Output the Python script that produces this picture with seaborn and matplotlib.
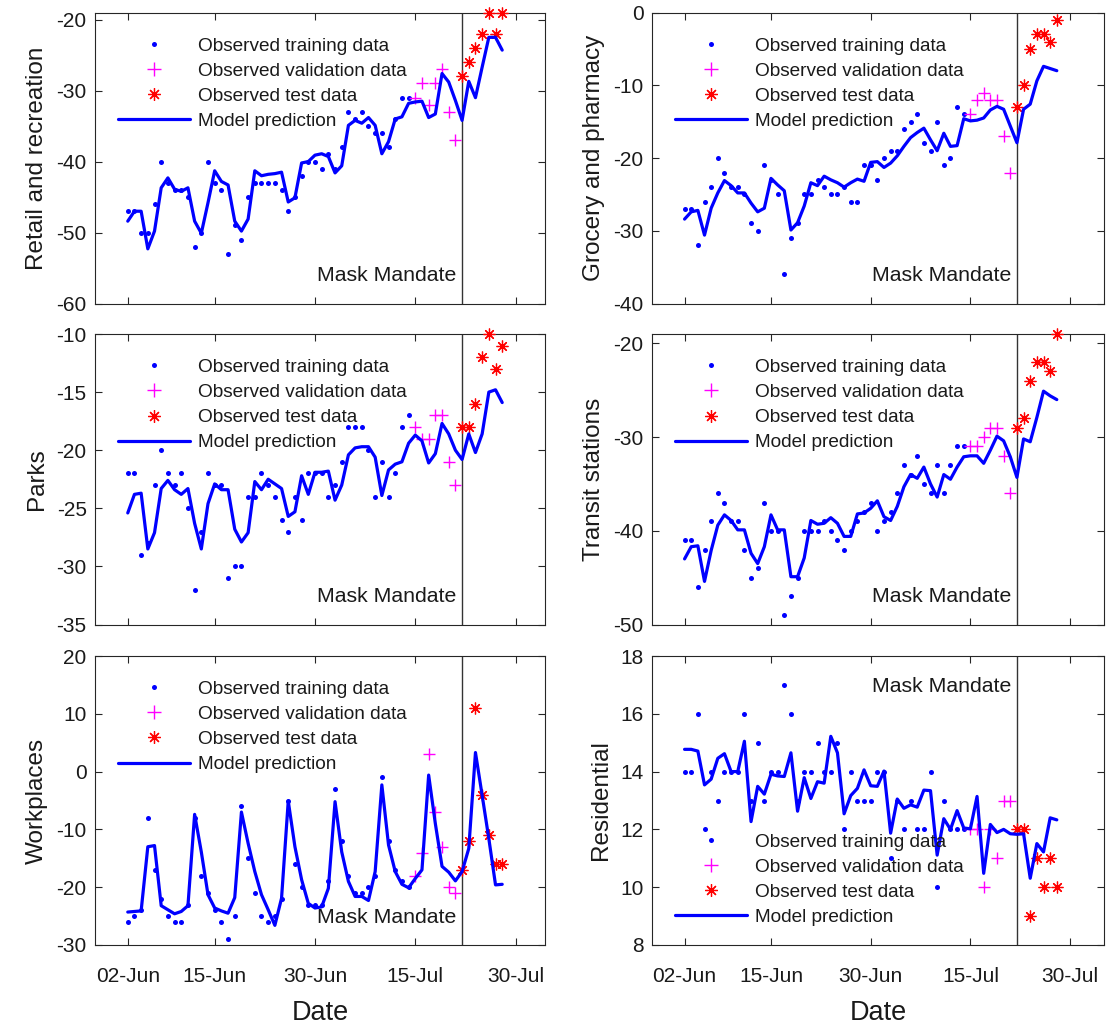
import matplotlib
matplotlib.use('Agg')
import matplotlib.pyplot as plt
import matplotlib.dates as mdates
import matplotlib.transforms as mtransforms
from matplotlib.lines import Line2D
import seaborn as sns
import pandas as pd

# Dates: 43 training days, 7 validation days, 7 test days
start_date = '2020-06-02'
n_train, n_val, n_test = 43, 7, 7
mask_mandate = '2020-07-22'
xtick_dates = ['2020-06-02', '2020-06-15', '2020-06-30', '2020-07-15', '2020-07-30']

# Retail and recreation
retail_train = [-47, -47, -50, -50, -46, -40, -43, -44, -44, -45, -52, -50, -40, -43, -44,
                 -53, -49, -51, -45, -43, -43, -43, -43, -44, -47, -45, -42, -40, -40, -41,
                 -39, -41, -38, -33, -34, -33, -35, -36, -36, -38, -34, -31, -31]
retail_val = [-31, -29, -32, -29, -27, -33, -37]
retail_test = [-28, -26, -24, -22, -19, -22, -19]
retail_pred = [-48.4, -47.0, -47.0, -52.3, -49.8, -43.7, -42.3, -43.9, -44.2, -43.7,
               -48.4, -50.1, -45.8, -41.3, -42.8, -43.3, -48.4, -49.8, -48.1, -41.3,
               -42.0, -41.8, -41.7, -41.5, -45.7, -45.1, -40.2, -40.0, -39.1, -38.9,
               -39.3, -41.6, -40.6, -34.9, -34.2, -34.6, -33.8, -34.9, -38.9, -37.2,
               -34.0, -33.7, -31.8, -31.6, -31.5, -33.8, -33.3, -27.6, -28.8, -31.4,
               -34.2, -28.7, -31.0, -26.7, -22.5, -22.5, -24.3]

# Grocery and pharmacy
grocery_train = [-27, -27, -32, -26, -24, -20, -22, -24, -24, -25, -29, -30, -21, -23, -25,
                 -36, -31, -29, -25, -25, -23, -24, -25, -25, -24, -26, -26, -21, -21, -23,
                 -20, -19, -19, -16, -15, -14, -18, -19, -15, -21, -20, -13, -14]
grocery_val = [-14, -12, -11, -12, -12, -17, -22]
grocery_test = [-13, -10, -5, -3, -3, -4, -1]
grocery_pred = [-28.4, -27.4, -27.2, -30.6, -26.9, -24.8, -23.1, -23.8, -24.8, -24.8,
                -26.2, -27.4, -26.9, -22.8, -23.7, -24.5, -29.9, -28.9, -26.6, -23.4,
                -23.8, -22.5, -23.0, -23.4, -24.0, -23.4, -22.9, -23.2, -20.6, -20.5,
                -21.3, -20.7, -19.7, -18.4, -17.2, -16.5, -15.9, -17.5, -19.0, -16.6,
                -18.4, -18.3, -14.6, -14.9, -14.8, -14.5, -13.4, -12.9, -13.3, -15.6,
                -17.9, -13.3, -12.6, -9.4, -7.4, -7.7, -8.0]

# Parks
parks_train = [-22, -22, -29, -28, -23, -20, -22, -23, -22, -25, -32, -27, -22, -23, -23,
               -31, -30, -30, -24, -24, -22, -23, -24, -26, -27, -24, -26, -22, -22, -22,
               -24, -23, -21, -18, -18, -18, -20, -24, -21, -24, -22, -18, -17]
parks_val = [-18, -19, -19, -17, -17, -21, -23]
parks_test = [-18, -18, -16, -12, -10, -13, -11]
parks_pred = [-25.4, -23.8, -23.7, -28.5, -27.1, -23.3, -22.6, -23.4, -23.8, -23.3,
              -26.3, -28.5, -24.6, -22.9, -23.4, -23.4, -26.8, -27.9, -27.1, -22.7,
              -23.4, -22.5, -22.9, -23.3, -25.7, -25.3, -22.2, -23.8, -21.9, -21.9,
              -21.8, -24.3, -23.0, -20.4, -19.8, -19.7, -19.7, -20.6, -23.9, -21.7,
              -21.2, -21.0, -19.4, -18.7, -19.2, -21.1, -20.3, -17.7, -18.6, -20.0,
              -20.8, -18.6, -20.2, -18.6, -15.0, -14.8, -15.9]

# Transit stations
transit_train = [-41, -41, -46, -42, -39, -36, -37, -39, -39, -42, -45, -44, -37, -40, -40,
                 -49, -47, -45, -40, -40, -40, -39, -40, -41, -42, -40, -39, -38, -37, -40,
                 -39, -38, -36, -33, -34, -32, -35, -36, -33, -36, -33, -31, -31]
transit_val = [-31, -31, -30, -29, -29, -32, -36]
transit_test = [-29, -28, -24, -22, -22, -23, -19]
transit_pred = [-43.0, -41.7, -41.6, -45.4, -42.1, -39.4, -38.3, -38.9, -39.9, -39.9,
                -42.4, -43.5, -41.7, -38.3, -39.9, -39.9, -44.9, -44.9, -42.9, -38.9,
                -39.3, -39.2, -38.6, -39.2, -40.6, -40.6, -38.2, -38.1, -37.6, -36.8,
                -38.5, -38.9, -37.4, -35.3, -34.0, -34.4, -33.2, -35.0, -36.4, -34.0,
                -34.5, -33.2, -32.1, -32.0, -32.0, -32.8, -31.4, -29.9, -30.4, -32.1,
                -34.3, -30.2, -30.5, -27.9, -25.1, -25.6, -26.0]

# Workplaces
work_train = [-26, -25, -24, -8, -17, -22, -25, -26, -26, -23, -8, -18, -21, -24, -26,
              -29, -25, -6, -15, -21, -25, -26, -25, -22, -5, -16, -20, -23, -23, -23,
              -19, -3, -12, -18, -21, -21, -20, -18, -1, -12, -17, -19, -20]
work_val = [-18, -14, 3, -7, -13, -20, -21]
work_test = [-17, -12, 11, -4, -11, -16, -16]
work_pred = [-24.3, -24.2, -24.1, -13.0, -12.8, -23.2, -23.9, -24.6, -24.2, -23.2,
             -7.4, -13.9, -21.3, -23.6, -24.1, -24.5, -21.8, -7.0, -12.4, -17.3,
             -21.3, -23.9, -26.6, -21.9, -5.1, -13.0, -18.7, -22.8, -23.6, -23.4,
             -20.2, -5.2, -13.9, -19.0, -21.6, -21.6, -22.3, -17.3, -2.3, -12.7,
             -17.3, -19.5, -20.1, -18.5, -17.0, -0.6, -9.0, -16.4, -17.4, -18.9,
             -17.3, -13.3, 3.3, -4.1, -11.6, -19.6, -19.5]

# Residential
resid_train = [14, 14, 16, 12, 14, 13, 14, 14, 14, 16, 13, 15, 13, 14, 14,
               17, 16, 13, 14, 14, 15, 14, 14, 15, 12, 14, 13, 13, 13, 14,
               14, 11, 13, 12, 13, 12, 12, 14, 10, 13, 12, 12, 12]
resid_val = [12, 12, 10, 12, 11, 13, 13]
resid_test = [12, 12, 9, 11, 10, 11, 10]
resid_pred = [14.77, 14.77, 14.71, 13.54, 13.74, 14.46, 14.62, 14.0, 14.0, 15.05,
              12.27, 13.49, 13.22, 13.91, 13.85, 13.83, 14.65, 12.63, 13.79, 13.07,
              13.65, 13.6, 15.22, 14.65, 12.54, 13.17, 13.42, 14.06, 13.51, 13.49,
              14.02, 11.87, 13.05, 12.73, 12.85, 12.77, 13.36, 13.34, 11.11, 12.37,
              12.0, 12.65, 12.05, 12.02, 13.14, 10.48, 12.17, 11.89, 12.0, 11.85,
              11.83, 11.85, 10.31, 11.51, 11.22, 12.4, 12.33]

# Panel setup: name, data, y limits, y ticks, legend/text at top or bottom
panels = [
    ('Retail and recreation', retail_train, retail_val, retail_test, retail_pred,
     (-60, -19), [-60, -50, -40, -30, -20], 'top'),
    ('Grocery and pharmacy', grocery_train, grocery_val, grocery_test, grocery_pred,
     (-40, 0), [-40, -30, -20, -10, 0], 'top'),
    ('Parks', parks_train, parks_val, parks_test, parks_pred,
     (-35, -10), [-35, -30, -25, -20, -15, -10], 'top'),
    ('Transit stations', transit_train, transit_val, transit_test, transit_pred,
     (-50, -19), [-50, -40, -30, -20], 'top'),
    ('Workplaces', work_train, work_val, work_test, work_pred,
     (-30, 20), [-30, -20, -10, 0, 10, 20], 'top'),
    ('Residential', resid_train, resid_val, resid_test, resid_pred,
     (8, 18), [8, 10, 12, 14, 16, 18], 'bottom'),
]

sns.set_theme(style='ticks')
plt.rcParams['font.family'] = ['Liberation Sans', 'DejaVu Sans']
plt.rcParams['axes.unicode_minus'] = False

dates = pd.date_range(start_date, periods=n_train + n_val + n_test, freq='D')
train_dates = dates[:n_train]
val_dates = dates[n_train:n_train + n_val]
test_dates = dates[n_train + n_val:]
mask_date = pd.Timestamp(mask_mandate)

W, H = 1112, 1024
fig = plt.figure(figsize=(W / 100, H / 100), dpi=100)
cols = [(95, 545), (652, 1104)]
rows = [(12.5, 303.5), (334, 624.5), (656, 945)]

blue = '#0000ff'
magenta = '#ff00ff'
red = '#ff0000'
edge = '#262626'
asterisk = (8, 2, 0)

for i, (name, tr, va, te, pr, ylim, yticks, pos) in enumerate(panels):
    r, c = divmod(i, 2)
    x0, x1 = cols[c]
    y0, y1 = rows[r]
    ax = fig.add_axes([x0 / W, 1 - y1 / H, (x1 - x0) / W, (y1 - y0) / H])

    ax.axvline(mask_date, color='#333333', lw=1.0, zorder=1)
    sns.scatterplot(x=train_dates, y=tr, ax=ax, color=blue, s=13, linewidth=0,
                    zorder=3, clip_on=False)
    ax.plot(val_dates, va, linestyle='', marker='+', color=magenta, ms=9, mew=1.0,
            zorder=3, clip_on=False)
    ax.plot(test_dates, te, linestyle='', marker=asterisk, color=red, ms=8.5, mew=0.9,
            zorder=3, clip_on=False)
    sns.lineplot(x=dates, y=pr, ax=ax, color=blue, lw=2.3, zorder=4)

    # x range as a day span around the observed data, like the reference
    x_lo = dates[0] - pd.Timedelta(days=4.9)
    x_hi = dates[0] + pd.Timedelta(days=62.4 + 0.1 * c * 7)
    ax.set_xlim(x_lo, x_hi)
    ax.set_ylim(*ylim)
    ax.set_yticks(yticks)
    ax.set_xticks(pd.to_datetime(xtick_dates))
    ax.xaxis.set_major_formatter(mdates.DateFormatter('%d-%b'))
    ax.tick_params(direction='in', top=True, right=True, length=5, width=0.8,
                   colors=edge, labelcolor='#1a1a1a', labelsize=15, pad=6)
    ax.tick_params(axis='x', pad=16)
    for sp in ax.spines.values():
        sp.set_color(edge)
        sp.set_linewidth(0.8)
    ax.set_ylabel(name, fontsize=17.5, color='#1a1a1a', labelpad=6)
    if r < 2:
        ax.tick_params(labelbottom=False)
        ax.set_xlabel('')
    else:
        ax.set_xlabel('Date', fontsize=19.5, color='#1a1a1a', labelpad=10)

    # Mask mandate label next to the vertical line
    trans = mtransforms.blended_transform_factory(ax.transData, ax.transAxes)
    ty = 0.095 if pos == 'top' else 0.893
    ax.text(mdates.date2num(mask_date - pd.Timedelta(days=0.9)), ty, 'Mask Mandate',
            transform=trans, ha='right', va='center', fontsize=15.3, color='#1a1a1a')

    handles = [
        Line2D([], [], linestyle='', marker='o', color=blue, ms=3.6, mew=0),
        Line2D([], [], linestyle='', marker='+', color=magenta, ms=10, mew=1.0),
        Line2D([], [], linestyle='', marker=asterisk, color=red, ms=9, mew=0.9),
        Line2D([], [], color=blue, lw=2.3),
    ]
    labels = ['Observed training data', 'Observed validation data',
              'Observed test data', 'Model prediction']
    if pos == 'top':
        loc, anchor = 'upper left', (0.051, 0.915)
    else:
        loc, anchor = 'lower left', (0.051, 0.066)
    leg = ax.legend(handles, labels, loc=loc, bbox_to_anchor=anchor, frameon=False,
                    fontsize=13.7, handlelength=3.8, handletextpad=0.4,
                    labelspacing=0.41, borderaxespad=0, borderpad=0)
    for t in leg.get_texts():
        t.set_color('#1a1a1a')

fig.savefig('out.png', dpi=100)
